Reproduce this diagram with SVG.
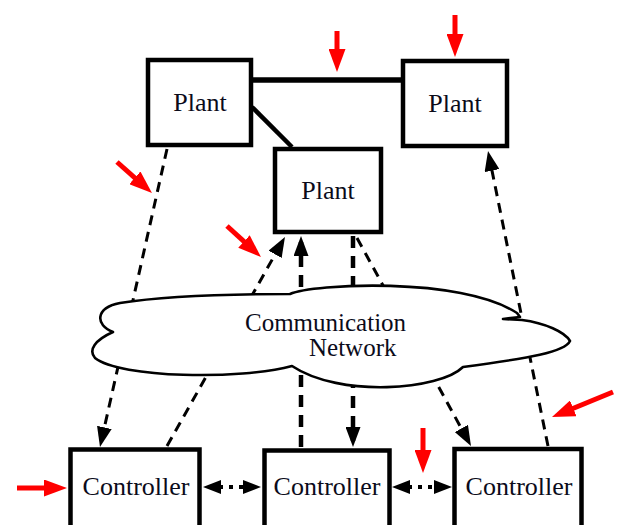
<svg xmlns="http://www.w3.org/2000/svg" width="617" height="525" viewBox="0 0 617 525">
<style>
.box{fill:#fff;stroke:#000;stroke-width:4.5}
.lbl{font-family:"Liberation Serif","Times New Roman",serif;font-size:26px;fill:#0b0b1a;text-anchor:middle}
.cl{font-family:"Liberation Serif","Times New Roman",serif;font-size:25px;fill:#0b0b1a}
.dash{fill:none;stroke:#000;stroke-width:3;stroke-dasharray:10 7;marker-end:url(#ah)}
.dashv{fill:none;stroke:#000;stroke-width:4.5;stroke-dasharray:12 8;marker-end:url(#ah)}
.dot{fill:none;stroke:#000;stroke-width:4;stroke-dasharray:4 6;marker-start:url(#ah2);marker-end:url(#ah2)}
.solid{fill:none;stroke:#000}
.red{fill:none;stroke:#f00;stroke-width:5;marker-end:url(#rh)}
</style>
<defs>
<marker id="ah" markerUnits="userSpaceOnUse" viewBox="0 0 20 15" markerWidth="20" markerHeight="15" refX="14" refY="7.5" orient="auto"><path d="M0,0 L20,7.5 L0,15 Z" fill="#000"/></marker>
<marker id="ah2" markerUnits="userSpaceOnUse" viewBox="0 0 18 14" markerWidth="18" markerHeight="14" refX="12" refY="7" orient="auto-start-reverse"><path d="M0,0 L18,7 L0,14 Z" fill="#000"/></marker>
<marker id="rh" markerUnits="userSpaceOnUse" viewBox="0 0 23 17" markerWidth="23" markerHeight="17" refX="11" refY="8.5" orient="auto"><path d="M0,0 L23,8.5 L0,17 Z" fill="#f00"/></marker>
</defs>
<rect width="617" height="525" fill="#fff"/>
<g id="connectors">
<line class="solid" x1="253" y1="80" x2="401" y2="80" stroke-width="5.5"/>
<line class="solid" x1="252" y1="107" x2="292" y2="147" stroke-width="4.5"/>
<line class="dash" x1="167" y1="149" x2="101.3" y2="441.1"/>
<line class="dash" x1="167" y1="446" x2="282" y2="242.2"/>
<line class="dashv" x1="301" y1="447" x2="301" y2="242"/>
<line class="dashv" x1="353" y1="236" x2="353" y2="441"/>
<line class="dash" x1="357" y1="238" x2="468.1" y2="440.7"/>
<line class="dash" x1="548" y1="446" x2="489.2" y2="156.9"/>
<line class="dot" x1="209" y1="487" x2="255" y2="487"/>
<line class="dot" x1="398" y1="487" x2="446" y2="487"/>
</g>
<g id="network">
<path d="M113,332 C95,325 95,308 120,303 C170,295 240,294 290,294 C312,284 460,276 517,313 L520,317 L503,319 L522,320 C545,323 565,332 570,341 C565,352 530,358 463,367 C440,390 340,398 292,366 C240,380 120,378 95,358 C88,350 95,340 113,332 Z" fill="#fff" stroke="#000" stroke-width="2.6" stroke-linejoin="round"/>
<text class="cl" x="245" y="331">Communication</text>
<text class="cl" x="309" y="356">Network</text>
</g>
<g id="plant1"><rect class="box" x="148" y="60" width="103" height="85"/><text class="lbl" x="200" y="111">Plant</text></g>
<g id="plant2"><rect class="box" x="275" y="149" width="106" height="83"/><text class="lbl" x="328" y="199">Plant</text></g>
<g id="plant3"><rect class="box" x="403" y="61" width="104" height="85"/><text class="lbl" x="455" y="112">Plant</text></g>
<g id="controller1"><rect class="box" x="70.5" y="449.5" width="129" height="90"/><text class="lbl" x="136" y="495">Controller</text></g>
<g id="controller2"><rect class="box" x="264.5" y="450.5" width="125" height="90"/><text class="lbl" x="327" y="495">Controller</text></g>
<g id="controller3"><rect class="box" x="454.5" y="449" width="127" height="90"/><text class="lbl" x="519" y="495">Controller</text></g>
<g id="disturbances">
<line class="red" x1="337" y1="31" x2="337" y2="60"/>
<line class="red" x1="455" y1="15" x2="455" y2="45"/>
<line class="red" x1="117" y1="162" x2="143" y2="185.1"/>
<line class="red" x1="227" y1="226" x2="252.1" y2="248.9"/>
<line class="red" x1="613" y1="392" x2="563.1" y2="412.5"/>
<line class="red" x1="423" y1="428" x2="423" y2="461"/>
<line class="red" x1="17" y1="488" x2="55" y2="488"/>
</g>
</svg>
